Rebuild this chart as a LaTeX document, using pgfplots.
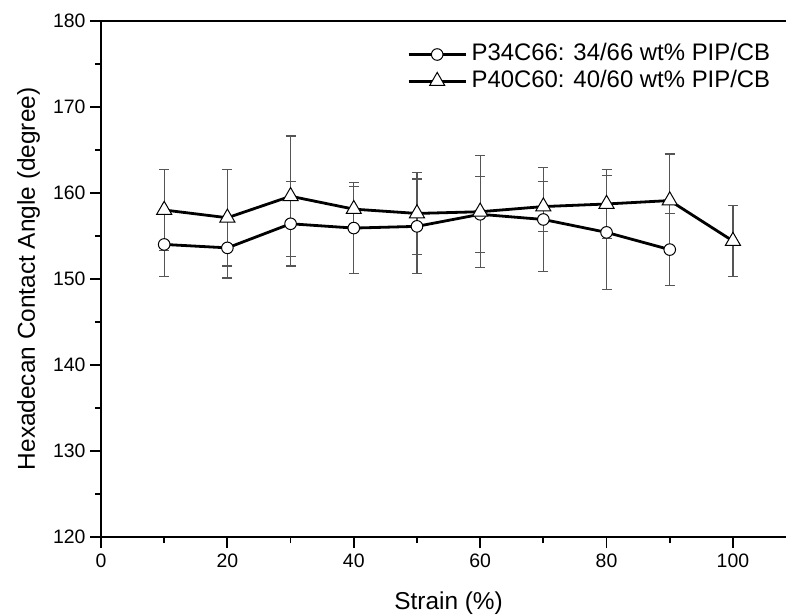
\documentclass[border=0pt]{standalone}
\usepackage{fontspec}
\setmainfont{Liberation Sans}
\usepackage{pgfplots}
\pgfplotsset{compat=1.18}
\definecolor{errgray}{RGB}{85,85,85}
\begin{document}
\begin{tikzpicture}
\begin{axis}[
  scale only axis, width=685bp, height=516.3bp,
  xmin=0, xmax=108.4, ymin=120, ymax=180,
  axis x line=box, axis y line=left,
  axis line style={line width=2.2bp, -},
  xtick pos=left,
  tick align=outside,
  major tick length=11bp, minor tick length=6bp,
  every tick/.style={black, line width=1.8bp},
  xtick={0,20,...,100}, minor xtick={10,30,...,90},
  ytick={120,130,...,180}, minor ytick={125,135,...,175},
  /pgf/number format/assume math mode=true,
  ticklabel style={font=\fontsize{19.5}{21}\selectfont},
  xticklabel style={yshift=-2bp},
  yticklabel style={xshift=-1bp},
  xlabel={Strain (\%)},
  ylabel={Hexadecan Contact Angle (degree)},
  label style={font=\fontsize{24.5}{27}\selectfont},
  xlabel style={at={(axis description cs:0.5074,-0.1395)}, anchor=base},
  ylabel style={at={(axis description cs:-0.0964,0.5)}, anchor=base},
  legend cell align=left,
  legend style={draw=none, fill=none, inner sep=0pt, row sep=4.6bp,
    column sep=0bp,
    nodes={inner xsep=4.5bp, inner ysep=0bp, text height=17bp, text depth=5bp},
    font=\fontsize{24}{26}\selectfont,
    at={(axis description cs:0.9838,0.9562)}, anchor=north east},
  legend image code/.code={\draw[mark repeat=2,mark phase=2,#1] plot coordinates {(0bp,0bp) (28.5bp,0bp) (57bp,0bp)};},
]
\addplot[black, line width=2.8bp, mark=*, mark size=5.8bp,
  mark options={fill=white, draw=black, line width=1bp},
  error bars/.cd, y dir=both, y explicit,
  error bar style={errgray, line width=1.2bp},
  error mark options={errgray, line width=1.2bp, mark size=5bp, rotate=90}]
coordinates {
(10,154.0) +- (0,3.7)
(20,153.6) +- (0,3.5)
(30,156.4) +- (0,4.9)
(40,155.9) +- (0,5.3)
(50,156.1) +- (0,5.5)
(60,157.5) +- (0,4.4)
(70,156.9) +- (0,6.0)
(80,155.4) +- (0,6.6)
(90,153.4) +- (0,4.2)
};
\addlegendentry{P34C66: 34/66 wt\% PIP/CB}
\addplot[black, line width=2.8bp, mark=triangle*, mark size=8.7bp,
  mark options={fill=white, draw=black, line width=1bp},
  error bars/.cd, y dir=both, y explicit,
  error bar style={errgray, line width=1.2bp},
  error mark options={errgray, line width=1.2bp, mark size=5bp, rotate=90}]
coordinates {
(10,158.0) +- (0,4.7)
(20,157.1) +- (0,5.6)
(30,159.6) +- (0,7.0)
(40,158.1) +- (0,2.6)
(50,157.6) +- (0,4.8)
(60,157.8) +- (0,6.5)
(70,158.4) +- (0,2.9)
(80,158.7) +- (0,4.0)
(90,159.1) +- (0,5.4)
(100,154.4) +- (0,4.1)
};
\addlegendentry{P40C60: 40/60 wt\% PIP/CB}
\end{axis}
\pgfresetboundingbox
\path[use as bounding box] ([xshift=-101bp,yshift=-78bp]current axis.south west) rectangle ([yshift=20.7bp]current axis.north east);
\end{tikzpicture}
\end{document}
